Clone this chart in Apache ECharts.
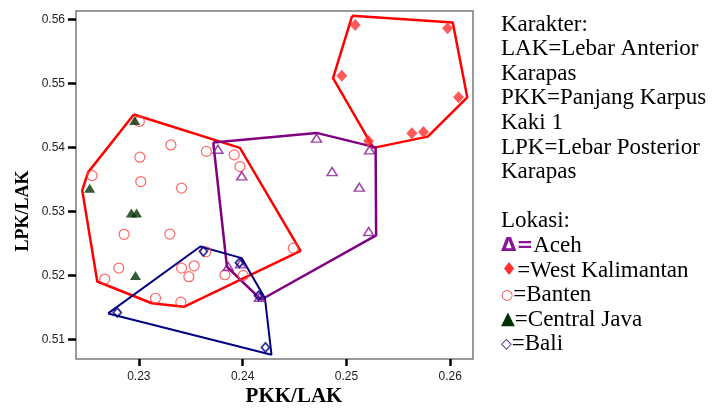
<!DOCTYPE html>
<html>
<head>
<meta charset="utf-8">
<script src="https://cdn.jsdelivr.net/npm/echarts@6/dist/echarts.min.js"></script>
<style>
  html, body { margin: 0; padding: 0; background: #fff; }
  #chart { width: 712px; height: 408px; }
</style>
</head>
<body>
<div id="chart"></div>
<script>
// Tick values on both axes
const xTicks = [0.23, 0.24, 0.25, 0.26];
const yTicks = [0.51, 0.52, 0.53, 0.54, 0.55, 0.56];

// Specimens: [PKK/LAK, LPK/LAK]
const aceh = [
  [0.23762, 0.53971], [0.24712, 0.54143], [0.25223, 0.53960], [0.23991, 0.53555],
  [0.24862, 0.53622], [0.25124, 0.53378], [0.25214, 0.52685], [0.23861, 0.52139],
  [0.23979, 0.52181], [0.24162, 0.51659]
];
const westKalimantan = [
  [0.25084, 0.55911], [0.25974, 0.55860], [0.24955, 0.55120], [0.26080, 0.54783],
  [0.25630, 0.54221], [0.25742, 0.54241], [0.25212, 0.54101]
];
const banten = [
  [0.23005, 0.54405], [0.23309, 0.54038], [0.23010, 0.53846], [0.23651, 0.53937],
  [0.23919, 0.53882], [0.23974, 0.53700], [0.22550, 0.53559], [0.23019, 0.53466],
  [0.23412, 0.53363], [0.22858, 0.52642], [0.23299, 0.52646], [0.22807, 0.52114],
  [0.22672, 0.51943], [0.23412, 0.52114], [0.23533, 0.52150], [0.23482, 0.51980],
  [0.23161, 0.51643], [0.23405, 0.51581], [0.23646, 0.52369], [0.23830, 0.52010],
  [0.24006, 0.51999], [0.24488, 0.52426]
];
const centralJava = [
  [0.22961, 0.54421], [0.22527, 0.53363], [0.22928, 0.52973], [0.22978, 0.52973],
  [0.22968, 0.51999]
];
const bali = [
  [0.22793, 0.51421], [0.23622, 0.52376], [0.23969, 0.52197], [0.24153, 0.51682],
  [0.24220, 0.50875]
];

// Outline polygons around each group (closed: first vertex repeated at the end)
const hullAceh = [
  [0.23717, 0.54077], [0.24712, 0.54226], [0.25281, 0.54000], [0.25286, 0.52626],
  [0.24177, 0.51620], [0.23849, 0.52135], [0.23717, 0.54077]
];
const hullWestKalimantan = [
  [0.25055, 0.56055], [0.26024, 0.55950], [0.26164, 0.54780], [0.25783, 0.54168],
  [0.25260, 0.53992], [0.24871, 0.55081], [0.25055, 0.56055]
];
const hullBantenJava = [
  [0.22952, 0.54514], [0.23974, 0.53992], [0.24558, 0.52384], [0.23434, 0.51510],
  [0.23125, 0.51565], [0.22600, 0.51905], [0.22455, 0.53328], [0.22511, 0.53609],
  [0.22952, 0.54514]
];
const hullBali = [
  [0.22704, 0.51406], [0.23593, 0.52451], [0.23991, 0.52270], [0.24215, 0.51643],
  [0.24278, 0.50761], [0.22704, 0.51406]
];

// Side notes
const characterNotes = [
  'Karakter:',
  'LAK=Lebar Anterior',
  'Karapas',
  'PKK=Panjang Karpus',
  'Kaki 1',
  'LPK=Lebar Posterior',
  'Karapas'
];
const locationTitle = 'Lokasi:';
const locationNames = ['Aceh', 'West Kalimantan', 'Banten', 'Central Java', 'Bali'];

const C_ACEH = '#8a1596';
const C_WK = '#ff3030';
const C_BANTEN = '#ff4444';
const C_JAVA = '#033003';
const C_BALI = '#00007f';

const chart = echarts.init(document.getElementById('chart'), null, { renderer: 'canvas' });

function hull(data, color, width) {
  return {
    type: 'line', data: data, symbol: 'none', showSymbol: false, z: 2,
    lineStyle: { color: color, width: width }, silent: true, animation: false
  };
}

const serif = "'Liberation Serif', 'DejaVu Serif', serif";
const noteSize = 23;
const lineStep = 24.6;
const graphics = [];
characterNotes.forEach((t, i) => {
  graphics.push({
    type: 'text', left: 501, top: 13 + i * lineStep,
    style: { text: t, font: noteSize + 'px ' + serif, fill: '#000' }
  });
});
graphics.push({
  type: 'text', left: 501, top: 13 + 8 * lineStep,
  style: { text: locationTitle, font: noteSize + 'px ' + serif, fill: '#000' }
});
const symbolRows = [
  { sym: '{s|Δ=}', name: locationNames[0], color: C_ACEH, size: 20, bold: 'bold' },
  { sym: '{s|♦}=', name: locationNames[1], color: C_WK, size: 18, bold: 'normal' },
  { sym: '{s|○}=', name: locationNames[2], color: C_BANTEN, size: 14, bold: 'normal' },
  { sym: '{s|▲}=', name: locationNames[3], color: C_JAVA, size: 18, bold: 'normal' },
  { sym: '{s|◇}=', name: locationNames[4], color: C_BALI, size: 14, bold: 'bold' }
];
symbolRows.forEach((r, i) => {
  graphics.push({
    type: 'text', left: 501, top: 13 + (9 + i) * lineStep,
    style: {
      text: r.sym + r.name,
      font: noteSize + 'px ' + serif, fill: '#000',
      rich: {
        s: { fill: r.color, fontSize: r.size, fontWeight: r.bold, fontFamily: "'DejaVu Sans', sans-serif" }
      }
    }
  });
});
// Axis titles
graphics.push({
  type: 'text', x: 23, y: 211, rotation: Math.PI / 2,
  style: { text: 'LPK/LAK', font: 'bold 18px ' + serif, fill: '#000', align: 'center', verticalAlign: 'middle' }
});
graphics.push({
  type: 'text', x: 294, y: 397,
  style: { text: 'PKK/LAK', font: 'bold 21px ' + serif, fill: '#000', align: 'center', verticalAlign: 'middle' }
});

const option = {
  animation: false,
  backgroundColor: '#fff',
  grid: {
    left: 76, right: 239, top: 11, bottom: 49,
    show: true, borderColor: '#7a7a7a', borderWidth: 1.5, backgroundColor: '#fff'
  },
  xAxis: {
    type: 'value', min: 0.22395, max: 0.26219,
    splitLine: { show: false },
    axisLine: { show: false },
    axisTick: { show: true, customValues: xTicks, length: 7, lineStyle: { color: '#000', width: 2.5 } },
    axisLabel: {
      show: true, customValues: xTicks, margin: 12,
      formatter: v => v.toFixed(2),
      color: '#222', fontSize: 12, fontFamily: "'Liberation Sans', Arial, sans-serif"
    }
  },
  yAxis: {
    type: 'value', min: 0.50694, max: 0.5613,
    splitLine: { show: false },
    axisLine: { show: false },
    axisTick: { show: true, customValues: yTicks, length: 8, lineStyle: { color: '#000', width: 2.5 } },
    axisLabel: {
      show: true, customValues: yTicks, margin: 11,
      formatter: v => v.toFixed(2),
      color: '#222', fontSize: 12, fontFamily: "'Liberation Sans', Arial, sans-serif"
    }
  },
  graphic: graphics,
  series: [
    hull(hullBantenJava, '#ff0000', 2.5),
    hull(hullWestKalimantan, '#ff0000', 2.5),
    hull(hullAceh, '#800080', 2.5),
    hull(hullBali, '#000080', 2),
    {
      type: 'scatter', data: banten, symbol: 'circle', symbolSize: 10, z: 3,
      itemStyle: { color: 'rgba(0,0,0,0)', borderColor: C_BANTEN, borderWidth: 1.2 }
    },
    {
      type: 'scatter', data: aceh, symbol: 'triangle', symbolSize: [10, 8], z: 3,
      itemStyle: { color: 'rgba(0,0,0,0)', borderColor: C_ACEH, borderWidth: 1.5 }
    },
    {
      type: 'scatter', data: westKalimantan, symbol: 'diamond', symbolSize: [11, 12], z: 4,
      itemStyle: { color: C_WK }
    },
    {
      type: 'scatter', data: centralJava, symbol: 'triangle', symbolSize: [11, 9], z: 4,
      itemStyle: { color: C_JAVA }
    },
    {
      type: 'scatter', data: bali, symbol: 'diamond', symbolSize: [8, 9], z: 4,
      itemStyle: { color: 'rgba(0,0,0,0)', borderColor: C_BALI, borderWidth: 1.8 }
    }
  ]
};
chart.setOption(option);
</script>
</body>
</html>
